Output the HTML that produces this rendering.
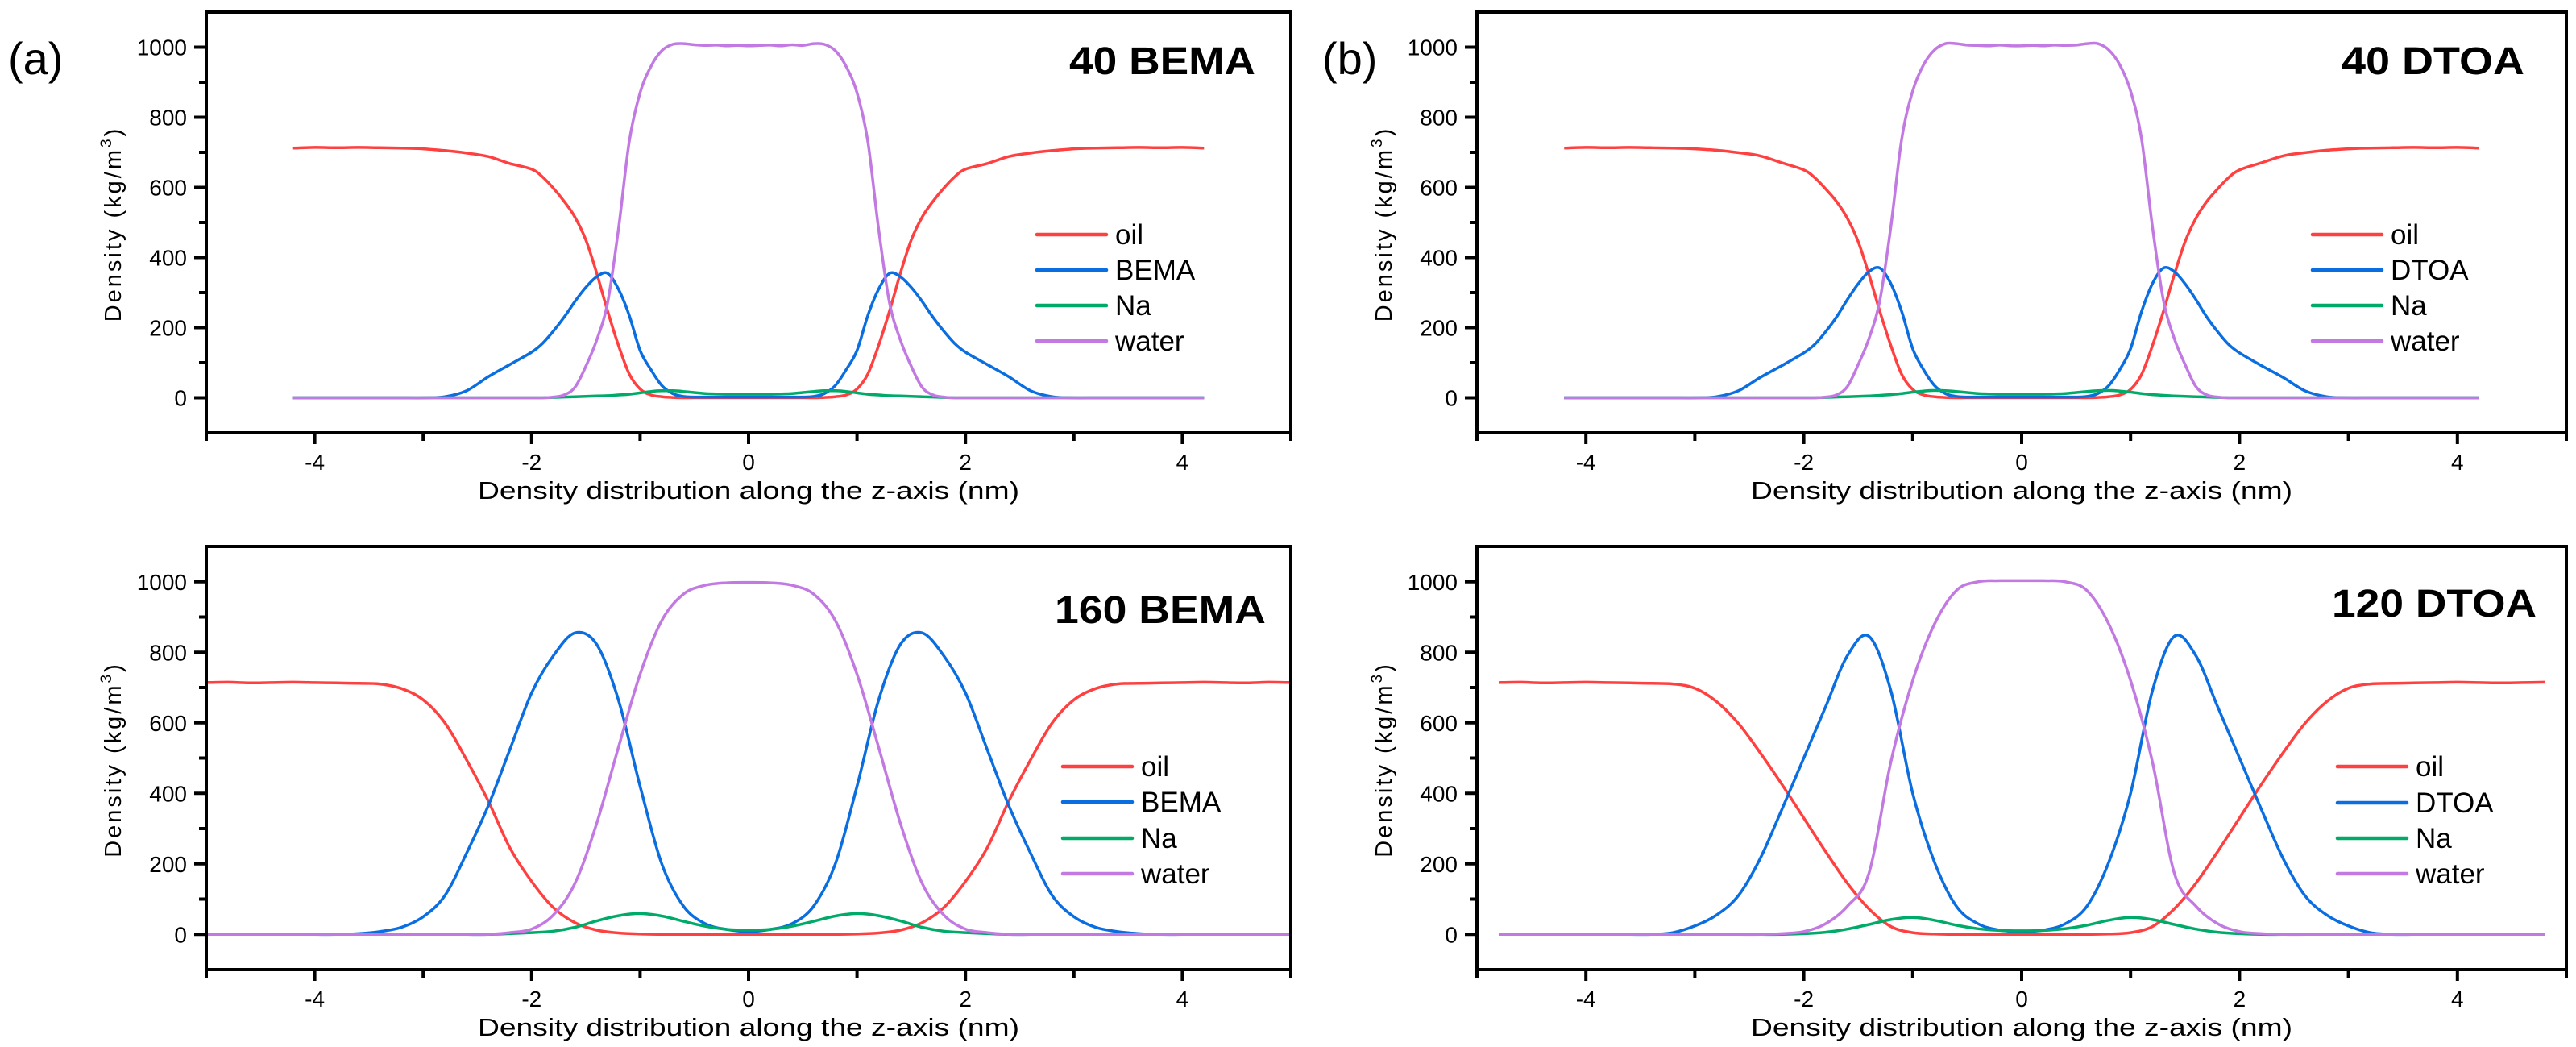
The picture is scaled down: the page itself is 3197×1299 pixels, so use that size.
<!DOCTYPE html>
<html><head><meta charset="utf-8"><title>Density profiles</title>
<style>
html,body{margin:0;padding:0;background:#fff;}
svg{display:block;}
text{font-family:"Liberation Sans",Arial,sans-serif;fill:#000;}
</style></head>
<body>
<svg id="fig" width="3197" height="1299" viewBox="0 0 3197 1299" xmlns="http://www.w3.org/2000/svg"></svg>
<script>
// ---------- shared x grids ----------
const xTop = [-4.2,-4.0,-3.8,-3.6,-3.4,-3.2,-3.0,-2.8,-2.6,-2.4,-2.2,
 -2.0,-1.9,-1.8,-1.7,-1.6,-1.5,-1.4,-1.3,-1.2,-1.1,-1.0,-0.9,-0.8,-0.7,-0.6,-0.5,-0.4,-0.3,-0.2,-0.1,
 0,
 0.1,0.2,0.3,0.4,0.5,0.6,0.7,0.8,0.9,1.0,1.1,1.2,1.3,1.4,1.5,1.6,1.7,1.8,1.9,2.0,
 2.2,2.4,2.6,2.8,3.0,3.2,3.4,3.6,3.8,4.0,4.2];
const xBotC = [-5.0,-4.8,-4.6,-4.4,-4.2,-4.0,-3.8,-3.6,-3.4,-3.2,-3.0,-2.8,-2.6,-2.4,-2.2,-2.0,-1.8,-1.6,-1.4,-1.2,-1.0,-0.8,-0.6,-0.4,-0.2,
 0,0.2,0.4,0.6,0.8,1.0,1.2,1.4,1.6,1.8,2.0,2.2,2.4,2.6,2.8,3.0,3.2,3.4,3.6,3.8,4.0,4.2,4.4,4.6,4.8,5.0];
const xBotD = [-4.8,-4.6,-4.4,-4.2,-4.0,-3.8,-3.6,-3.4,-3.2,-3.0,-2.8,-2.6,-2.4,-2.2,-2.0,-1.8,-1.6,-1.4,-1.2,-1.0,-0.8,-0.6,-0.4,-0.2,
 0,0.2,0.4,0.6,0.8,1.0,1.2,1.4,1.6,1.8,2.0,2.2,2.4,2.6,2.8,3.0,3.2,3.4,3.6,3.8,4.0,4.2,4.4,4.6,4.8];

// ---------- panel (a) 40 BEMA ----------
const oilA = [712,714,713,714,713,712,710,705,698,688,668,
 652,630,598,560,515,450,355,248,150,68,25,8,3,1,0,0,0,0,0,0,
 0,
 0,0,0,0,0,0,1,3,8,25,68,150,248,355,450,515,560,598,630,652,
 668,688,698,705,710,712,713,714,713,714,712];
const bemaA = [0,0,0,0,0,0,0,3,20,60,95,
 130,155,190,230,275,315,345,355,310,235,135,80,35,12,4,2,2,2,2,2,
 2,
 2,2,2,2,2,4,12,35,80,135,235,310,355,345,315,275,230,190,155,130,
 95,60,20,3,0,0,0,0,0,0,0];
const naA = [0,0,0,0,0,0,0,0,0,0,0,
 0,0,1,2,3,4,5,6,8,10,14,18,20,20,18,15,12,11,10,10,
 10,
 10,10,11,12,15,18,20,20,18,14,10,8,6,5,4,3,2,1,0,0,
 0,0,0,0,0,0,0,0,0,0,0];
const waterA = [0,0,0,0,0,0,0,0,0,0,0,
 0,0,2,8,30,90,165,270,480,730,870,945,990,1008,1010,1007,1005,1006,1004,1005,
 1004,
 1005,1006,1004,1007,1005,1010,1008,990,945,870,730,480,270,165,90,30,8,2,0,0,
 0,0,0,0,0,0,0,0,0,0,0];

// ---------- panel (b) 40 DTOA ----------
const oilB = [712,714,713,714,713,712,710,706,699,690,670,
 650,628,596,560,512,445,350,245,148,66,24,8,3,1,0,0,0,0,0,0,
 0,
 0,0,0,0,0,0,1,3,8,24,66,148,245,350,445,512,560,596,628,650,
 670,690,699,706,710,712,713,714,713,714,712];
const dtoaB = [0,0,0,0,0,0,0,3,20,58,92,
 128,152,188,230,280,325,360,370,325,245,140,80,35,12,4,2,2,2,2,2,
 2,
 2,2,2,2,2,4,12,35,80,140,245,325,370,360,325,280,230,188,152,128,
 92,58,20,3,0,0,0,0,0,0,0];
const naB = [0,0,0,0,0,0,0,0,0,0,0,
 0,0,1,2,3,4,5,7,9,12,16,19,21,20,18,15,12,11,10,10,
 10,
 10,10,11,12,15,18,20,21,19,16,12,9,7,5,4,3,2,1,0,0,
 0,0,0,0,0,0,0,0,0,0,0];
const waterB = [0,0,0,0,0,0,0,0,0,0,0,
 0,0,2,8,32,95,170,280,490,740,875,950,992,1010,1010,1006,1005,1004,1006,1004,
 1004,
 1005,1004,1006,1005,1006,1010,1010,992,950,875,740,490,280,170,95,32,8,2,0,0,
 0,0,0,0,0,0,0,0,0,0,0];

// ---------- panel (c) 160 BEMA ----------
const oilC = [714,715,713,714,715,714,713,712,710,697,665,600,495,378,245,150,76,33,12,4,1,0,0,0,0,
 0,
 0,0,0,0,1,4,12,33,76,150,245,378,495,600,665,697,710,712,713,714,715,714,713,715,714];
const bemaC = [0,0,0,0,0,0,0,2,8,20,50,110,230,365,525,685,790,855,822,665,420,200,80,30,14,
 8,
 14,30,80,200,420,665,822,855,790,685,525,365,230,110,50,20,8,2,0,0,0,0,0,0,0];
const naC = [0,0,0,0,0,0,0,0,0,0,0,0,0,0,2,5,9,20,38,53,59,52,37,23,14,
 12,
 14,23,37,52,59,53,38,20,9,5,2,0,0,0,0,0,0,0,0,0,0,0,0,0,0];
const waterC = [0,0,0,0,0,0,0,0,0,0,0,0,0,0,5,15,55,145,315,530,738,890,965,990,997,
 998,
 997,990,965,890,738,530,315,145,55,15,5,0,0,0,0,0,0,0,0,0,0,0,0,0,0];

// ---------- panel (d) 120 DTOA ----------
const oilD = [714,715,713,714,715,714,713,712,710,698,660,598,515,425,330,235,145,72,22,5,1,0,0,0,
 0,
 0,0,0,1,5,22,72,145,235,330,425,515,598,660,698,710,712,713,714,715,714,713,714,715];
const dtoaD = [0,0,0,0,0,0,0,0,5,24,55,110,215,355,500,645,790,845,690,400,205,80,30,12,
 8,
 12,30,80,205,400,690,845,790,645,500,355,215,110,55,24,5,0,0,0,0,0,0,0,0];
const naD = [0,0,0,0,0,0,0,0,0,0,0,0,0,0,2,6,15,28,42,48,40,26,16,11,
 10,
 11,16,26,40,48,42,28,15,6,2,0,0,0,0,0,0,0,0,0,0,0,0,0,0];
const waterD = [0,0,0,0,0,0,0,0,0,0,0,0,0,2,8,30,80,175,490,720,880,975,1000,1003,
 1003,
 1003,1000,975,880,720,490,175,80,30,8,2,0,0,0,0,0,0,0,0,0,0,0,0,0];

// ---------- axis ticks ----------
const xTickLabels = ["-4","-2","0","2","4"];
const xTickValues = [-4,-2,0,2,4];
const xMinorValues = [-5,-3,-1,1,3,5];
const yTickValues = [0,200,400,600,800,1000];
const yMinorValues = [100,300,500,700,900];
const legendNamesAC = ["oil","BEMA","Na","water"];
const legendNamesBD = ["oil","DTOA","Na","water"];

const COLORS = ["#ff4040","#0a6de0","#00aa68","#c27ae2"];
const NS = "http://www.w3.org/2000/svg";
const svg = document.getElementById("fig");

function mk(tag, attrs, parent){
  const e = document.createElementNS(NS, tag);
  for (const k in attrs) e.setAttribute(k, attrs[k]);
  (parent||svg).appendChild(e);
  return e;
}

function smoothPath(pts){
  let d = "M" + pts[0][0].toFixed(1) + "," + pts[0][1].toFixed(1);
  for (let i=0;i<pts.length-1;i++){
    const p0 = pts[i-1]||pts[i], p1=pts[i], p2=pts[i+1], p3=pts[i+2]||p2;
    const c1x = p1[0]+(p2[0]-p0[0])/6, c1y = p1[1]+(p2[1]-p0[1])/6;
    const c2x = p2[0]-(p3[0]-p1[0])/6, c2y = p2[1]-(p3[1]-p1[1])/6;
    d += " C"+c1x.toFixed(1)+","+c1y.toFixed(1)+" "+c2x.toFixed(1)+","+c2y.toFixed(1)+" "+p2[0].toFixed(1)+","+p2[1].toFixed(1);
  }
  return d;
}

function drawPanel(cfg){
  const g = mk("g", {});
  
  
  const L=cfg.left, R=cfg.right, T=cfg.top, B=cfg.bottom;
  const yMin=-100, yMax=1100, xMin=-5, xMax=5;
  const sx = v => L + (v-xMin)/(xMax-xMin)*(R-L);
  const sy = v => B - (v-yMin)/(yMax-yMin)*(B-T);

  const names = cfg.legend;
  cfg.series.forEach((vals, si)=>{
    const pts = cfg.x.map((xv,i)=>[sx(xv), sy(vals[i])]);
    const p = mk("path", {d: smoothPath(pts), fill:"none", stroke: COLORS[si], "stroke-width": 3.5, "stroke-linejoin":"round"}, g);
    
    
  });

  const fr = mk("rect", {x:L, y:T, width:R-L, height:B-T, fill:"none", stroke:"#000", "stroke-width":4}, g);
  
  

  yTickValues.forEach(v=>{
    const t = mk("line", {x1:L-15, x2:L, y1:sy(v), y2:sy(v), stroke:"#000", "stroke-width":4}, g);
    
    
    const lb = mk("text", {x:L-24, y:sy(v)+10, "text-anchor":"end", "font-size":28}, g);
    lb.textContent = String(v);
    
    
  });
  yMinorValues.forEach(v=>{
    const t = mk("line", {x1:L-9, x2:L, y1:sy(v), y2:sy(v), stroke:"#000", "stroke-width":4}, g);
    
    
  });
  xTickValues.forEach((v,i)=>{
    const t = mk("line", {x1:sx(v), x2:sx(v), y1:B, y2:B+14, stroke:"#000", "stroke-width":4}, g);
    
    
    const lb = mk("text", {x:sx(v), y:B+46, "text-anchor":"middle", "font-size":28}, g);
    lb.textContent = xTickLabels[i];
    
    
  });
  xMinorValues.forEach(v=>{
    const t = mk("line", {x1:sx(v), x2:sx(v), y1:B, y2:B+10, stroke:"#000", "stroke-width":4}, g);
    
    
  });

  const xt = mk("text", {x:(L+R)/2, y:B+82, "text-anchor":"middle", "font-size":31, textLength:672, lengthAdjust:"spacingAndGlyphs"}, g);
  xt.textContent = "Density distribution along the z-axis (nm)";
  
  

  const ycx = L-106, ycy = (T+B)/2 + 2;
  const yt = mk("text", {x:ycx, y:ycy, "text-anchor":"middle", "font-size":29, "letter-spacing":3, transform:"rotate(-90 "+ycx+" "+ycy+")"}, g);
  
  
  const ts1 = mk("tspan", {}, yt); ts1.textContent = "Density (kg/m";
  const ts2 = mk("tspan", {dy:-12, "font-size":19}, yt); ts2.textContent = "3";
  const ts3 = mk("tspan", {dy:12}, yt); ts3.textContent = ")";

  const tt = mk("text", {x:cfg.titleX, y:cfg.titleY, "font-size":48, "font-weight":"bold", textLength:cfg.titleW, lengthAdjust:"spacingAndGlyphs"}, g);
  tt.textContent = cfg.title;
  
  

  names.forEach((n,i)=>{
    const yy = cfg.legY[i];
    const ln = mk("line", {x1:cfg.legX, x2:cfg.legX+86, y1:yy, y2:yy, stroke:COLORS[i], "stroke-width":4.5, "stroke-linecap":"round"}, g);
    
    
    const tx = mk("text", {x:cfg.legX+97, y:yy+12, "font-size":35}, g);
    tx.textContent = n;
    
    
  });

  if (cfg.label){
    const pl = mk("text", {x:cfg.labelX, y:92, "font-size":56}, g);
    pl.textContent = cfg.label;
    
    
  }
}

drawPanel({name:"panel-a-40-bema", left:256, right:1602, top:15, bottom:537, x:xTop,
  series:[oilA,bemaA,naA,waterA], legend:legendNamesAC,
  title:"40 BEMA", titleX:1327, titleY:92, titleW:231,
  legX:1287, legY:[291,335,379,423], label:"(a)", labelX:10});
drawPanel({name:"panel-b-40-dtoa", left:1833, right:3185, top:15, bottom:537, x:xTop,
  series:[oilB,dtoaB,naB,waterB], legend:legendNamesBD,
  title:"40 DTOA", titleX:2906, titleY:92, titleW:227,
  legX:2870, legY:[291,335,379,423], label:"(b)", labelX:1641});
drawPanel({name:"panel-c-160-bema", left:256, right:1602, top:678, bottom:1203, x:xBotC,
  series:[oilC,bemaC,naC,waterC], legend:legendNamesAC,
  title:"160 BEMA", titleX:1309, titleY:773, titleW:262,
  legX:1319, legY:[951,995,1040,1084]});
drawPanel({name:"panel-d-120-dtoa", left:1833, right:3185, top:678, bottom:1203, x:xBotD,
  series:[oilD,dtoaD,naD,waterD], legend:legendNamesBD,
  title:"120 DTOA", titleX:2894, titleY:765, titleW:254,
  legX:2901, legY:[951,996,1040,1084]});
</script>
</body></html>
